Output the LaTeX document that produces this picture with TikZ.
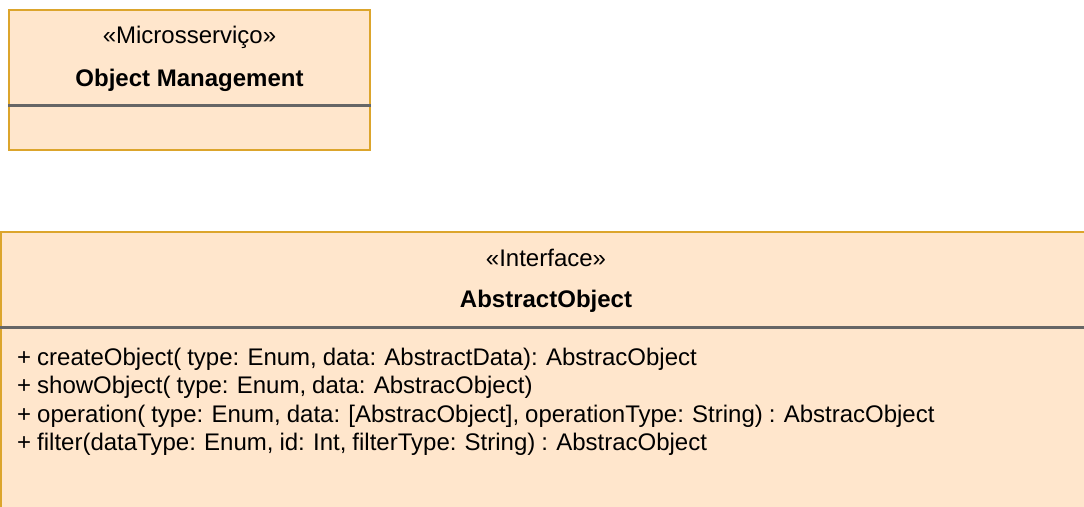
\documentclass[tikz,border=0pt]{standalone}
\usepackage{fontspec}
\setmainfont{Liberation Sans}
\newfontfamily\memberfont{Liberation Sans}[WordSpace=0.9]
\definecolor{classfill}{HTML}{FFE6CC}
\definecolor{classedge}{HTML}{DCA52C}
\definecolor{compartment}{HTML}{666666}
\tikzset{
  classbox/.style={draw=classedge, fill=classfill, line width=2pt, rectangle, inner sep=0pt},
  divider/.style={draw=compartment, line width=3pt},
  label/.style={inner sep=0pt, font=\fontsize{24}{29}\selectfont, anchor=base},
  heading/.style={label, font=\fontsize{24}{29}\selectfont\bfseries},
  member/.style={label, anchor=base west, font=\memberfont\fontsize{24}{29}\selectfont}
}
\begin{document}
\begin{tikzpicture}[x=1pt, y=-1pt]
  \useasboundingbox (0,0) rectangle (1084,506);
  \begin{scope}
    \clip (0,0) rectangle (1084,506);

    % microservice class
    \node[classbox, minimum width=361pt, minimum height=140pt] (om) at (189.5,80) {};
    \node[label] (omst) at (189.5,43) {«Microsserviço»};
    \node[heading] (omname) at (189.5,86) {Object Management};
    \coordinate (omdl) at (om.west |- 0,105);
    \coordinate (omdr) at (om.east |- 0,105);
    \draw[divider] (omdl) -- (omdr);

    % interface class
    \node[classbox, minimum width=1090pt, minimum height=290pt] (ao) at (546,377) {};
    \node[label] (aost) at (546,266) {«Interface»};
    \node[heading] (aoname) at (546,307) {AbstractObject};
    \coordinate (aodl) at (ao.west |- 0,327);
    \coordinate (aodr) at (ao.east |- 0,327);
    \draw[divider] (aodl) -- (aodr);

    \node[member] (m1) at (17,365) {+ createObject( type: Enum, data: AbstractData): AbstracObject};
    \node[member] (m2) at (17,393) {+ showObject( type: Enum, data: AbstracObject)};
    \node[member] (m3) at (17,422) {+ operation( type: Enum, data: [AbstracObject], operationType: String) : AbstracObject};
    \node[member] (m4) at (17,450) {+ filter(dataType: Enum, id: Int, filterType: String) : AbstracObject};
  \end{scope}
\end{tikzpicture}
\end{document}
